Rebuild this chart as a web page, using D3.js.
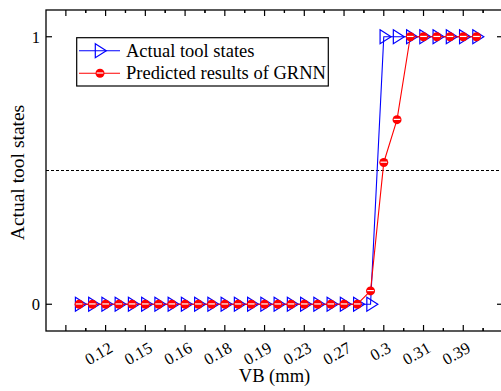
<!DOCTYPE html>
<html>
<head>
<meta charset="utf-8">
<script src="https://cdn.jsdelivr.net/npm/d3@7"></script>
<style>
html,body{margin:0;padding:0;background:#fff;}
svg{display:block;font-family:"Liberation Serif","Times New Roman",serif;}
</style>
</head>
<body>
<svg id="chart" width="501" height="391"></svg>
<script>
// ---- data ----
const sampleIndex = d3.range(0, 31);
const actualStates = [0,0,0,0,0,0,0,0,0,0,0,0,0,0,0,0,0,0,0,0,0,0,0,1,1,1,1,1,1,1,1];
const predictedGRNN = [0,0,0,0,0,0,0,0,0,0,0,0,0,0,0,0,0,0,0,0,0,0,0.05,0.53,0.69,1,1,1,1,1,1];
const xTickIndex = [2,5,8,11,14,17,20,23,26,29];
const xTickLabels = ["0.12","0.15","0.16","0.18","0.19","0.23","0.27","0.3","0.31","0.39"];
const yTicks = [0, 1];
const seriesNames = ["Actual tool states", "Predicted results of GRNN"];

const svg = d3.select("#chart");
const L = 46, R = 503, T = 10, B = 331;
const x = d3.scaleLinear().domain([-2.5, 32]).range([L, R]);
const y = d3.scaleLinear().domain([-0.1, 1.1]).range([B, T]);

const majorX = d3.range(-1, 33, 3);
const minorX = d3.range(-2.5, 33, 3).concat(d3.range(0.5, 33, 3));

// frame
svg.append("rect").attr("x", L).attr("y", T).attr("width", R - L).attr("height", B - T)
  .attr("fill", "none").attr("stroke", "#000").attr("stroke-width", 1.3);

// x ticks (bottom and top, inward)
const tg = svg.append("g").attr("stroke", "#000").attr("stroke-width", 1.2);
majorX.forEach(v => {
  const px = x(v);
  if (px < L || px > R) return;
  tg.append("line").attr("x1", px).attr("x2", px).attr("y1", B).attr("y2", B - 6);
  tg.append("line").attr("x1", px).attr("x2", px).attr("y1", T).attr("y2", T + 6);
});
minorX.forEach(v => {
  const px = x(v);
  if (px <= L + 0.5 || px > R) return;
  tg.append("line").attr("x1", px).attr("x2", px).attr("y1", B).attr("y2", B - 3);
  tg.append("line").attr("x1", px).attr("x2", px).attr("y1", T).attr("y2", T + 3);
});
// y ticks (left & right, inward)
yTicks.forEach(v => {
  const py = y(v);
  tg.append("line").attr("x1", L).attr("x2", L + 6).attr("y1", py).attr("y2", py);
  tg.append("line").attr("x1", R).attr("x2", R - 6).attr("y1", py).attr("y2", py);
});

// y tick labels
svg.append("g").selectAll("text").data(yTicks).join("text")
  .attr("x", L - 6).attr("y", d => y(d)).attr("dy", "0.35em")
  .attr("text-anchor", "end").attr("font-size", 16.5).text(d => d);

// x tick labels rotated
svg.append("g").selectAll("text").data(xTickIndex).join("text")
  .attr("transform", d => `translate(${x(d) + 2.5},${B + 10}) rotate(-30)`)
  .attr("dy", "0.7em").attr("text-anchor", "end").attr("font-size", 16.5)
  .text((d, i) => xTickLabels[i]);

// axis titles
svg.append("text").attr("x", (L + R) / 2).attr("y", 382).attr("text-anchor", "middle")
  .attr("font-size", 18.5).text("VB (mm)");
svg.append("text").attr("transform", `translate(24,${(T + B) / 2 + 2}) rotate(-90)`)
  .attr("text-anchor", "middle").attr("font-size", 19.5).text("Actual tool states");

// dashed threshold line
svg.append("line").attr("x1", L).attr("x2", R).attr("y1", y(0.5)).attr("y2", y(0.5))
  .attr("stroke", "#000").attr("stroke-width", 1).attr("stroke-dasharray", "3,2");

const line = d3.line().x(d => x(d[0])).y(d => y(d[1]));

function triPath(cx, cy) {
  return `M${cx - 3.7},${cy - 7}L${cx + 7.3},${cy}L${cx - 3.7},${cy + 7}Z`;
}
function drawCircle(g, cx, cy) {
  g.append("circle").attr("cx", cx).attr("cy", cy).attr("r", 4.5).attr("fill", "#ff0000");
  g.append("line").attr("x1", cx - 3.3).attr("x2", cx + 3.3).attr("y1", cy - 0.3).attr("y2", cy - 0.3)
    .attr("stroke", "#fff").attr("stroke-width", 1.2);
}

// actual series
const actualPts = sampleIndex.map((s, i) => [s, actualStates[i]]);
svg.append("path").attr("d", line(actualPts)).attr("fill", "none")
  .attr("stroke", "#0000ff").attr("stroke-width", 1.1);
const gA = svg.append("g");
actualPts.forEach(p => {
  gA.append("path").attr("d", triPath(x(p[0]), y(p[1]))).attr("fill", "none")
    .attr("stroke", "#0000ff").attr("stroke-width", 1.2);
});

// predicted series
const predPts = sampleIndex.map((s, i) => [s, predictedGRNN[i]]);
svg.append("path").attr("d", line(predPts)).attr("fill", "none")
  .attr("stroke", "#ff0000").attr("stroke-width", 1.1);
const gP = svg.append("g");
predPts.forEach(p => drawCircle(gP, x(p[0]), y(p[1])));

// legend
const lg = svg.append("g");
lg.append("rect").attr("x", 76.7).attr("y", 37.7).attr("width", 251.6).attr("height", 48.3)
  .attr("fill", "#fff").attr("stroke", "#000").attr("stroke-width", 1.2);
const rows = [50.7, 73.3];
lg.append("line").attr("x1", 79).attr("x2", 120).attr("y1", rows[0]).attr("y2", rows[0])
  .attr("stroke", "#0000ff").attr("stroke-width", 1.1);
lg.append("path").attr("d", triPath(99, rows[0])).attr("fill", "none")
  .attr("stroke", "#0000ff").attr("stroke-width", 1.2);
lg.append("line").attr("x1", 79).attr("x2", 120).attr("y1", rows[1]).attr("y2", rows[1])
  .attr("stroke", "#ff0000").attr("stroke-width", 1.1);
drawCircle(lg, 100, rows[1]);
seriesNames.forEach((n, i) => {
  lg.append("text").attr("x", 126).attr("y", rows[i]).attr("dy", "0.33em")
    .attr("font-size", 18.5).text(n);
});
</script>
</body>
</html>
